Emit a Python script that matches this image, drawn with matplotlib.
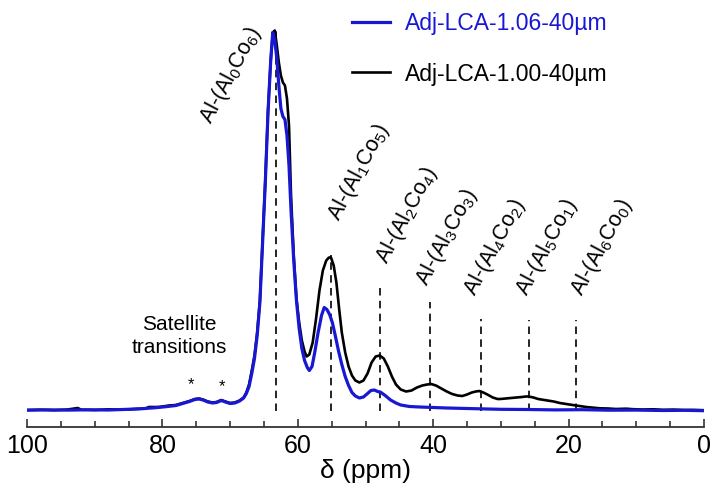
import matplotlib
matplotlib.use("Agg")
import matplotlib.pyplot as plt
from matplotlib.ticker import MultipleLocator

plt.rcParams['font.family'] = ['Liberation Sans', 'DejaVu Sans']
plt.rcParams['mathtext.fontset'] = 'custom'
plt.rcParams['mathtext.rm'] = 'Liberation Sans'
plt.rcParams['mathtext.it'] = 'Liberation Sans'
plt.rcParams['mathtext.default'] = 'regular'

# 27Al spectrum, sample Adj-LCA-1.00-40µm (chemical shift in ppm, intensity a.u.)
ppm_100 = [100, 98, 96, 94, 92.5, 92, 90, 88, 86, 84, 82.5, 82, 80.5, 79, 78, 77, 76,
           75.2, 74.6, 74, 73.3, 72.6, 72, 71.3, 70.7, 70, 69.3, 68.6, 68, 67.6, 67.2,
           66.8, 66.4, 66.0, 65.6, 65.2, 64.8, 64.4, 64.0, 63.7, 63.4, 63.1, 62.8, 62.5,
           62.2, 61.9, 61.6, 61.3, 61.0, 60.6, 60.2, 59.8, 59.4, 59.0, 58.7, 58.3, 57.8,
           57.3, 56.8, 56.3, 55.8, 55.4, 55.1, 54.7, 54.3, 53.9, 53.5, 53.0, 52.5, 52.0,
           51.5, 50.9, 50.3, 49.7, 49.1, 48.5, 47.9, 47.3, 46.7, 46.1, 45.5, 44.8, 44.0,
           43.2, 42.4, 41.6, 40.9, 40.3, 39.6, 38.8, 38.0, 37.2, 36.4, 35.7, 35.0, 34.3,
           33.7, 33.2, 32.6, 32.0, 31.2, 30.5, 30.1, 29.3, 28.5, 27.7, 26.9, 26.3, 25.9,
           25.2, 24.5, 23.6, 22.8, 22.2, 21.3, 20.4, 19.4, 18.4, 17.4, 16.4, 15.4, 14.2,
           13, 11.5, 10.5, 9, 7.5, 6, 4.5, 3, 1.5, 0]
int_100 = [0.5, 0.8, 0.3, 1.0, 2.5, 0.8, 0.5, 1.2, 0.8, 1.5, 2.0, 3.5, 3.5, 5, 5.5, 7.5, 9.5,
           11.5, 12, 11, 9, 8, 8.5, 10.5, 9, 7.5, 8, 10, 13, 18, 26,
           40, 55, 78, 110, 170, 230, 300, 350, 378, 380, 365, 348, 335,
           328, 325, 312, 285, 215, 155, 112, 88, 70, 59, 54, 56, 68,
           92, 120, 140, 150, 153, 153, 145, 128, 102, 78, 58, 44, 35,
           30, 28, 30, 37, 48, 54, 55, 52, 44, 34, 26, 21, 19,
           20, 23, 25, 26, 26.5, 25, 22, 19, 16.5, 15, 14.5, 16, 18,
           19, 19.5, 18, 16, 13, 11.5, 11.5, 12, 12.5, 13, 13.5, 14, 14,
           13, 11.5, 10.5, 9.5, 9, 7.5, 6.5, 5.5, 4.5, 3.5, 2.8, 2.2, 2,
           1.5, 1.8, 1.3, 1.0, 1.2, 0.7, 0.9, 0.5, 0.6, 0.3]

# 27Al spectrum, sample Adj-LCA-1.06-40µm
ppm_106 = [100, 97, 94, 91, 88, 85, 83, 81, 79.5, 78, 77, 76, 75.2, 74.6, 74, 73.3, 72.6,
           72, 71.3, 70.7, 70, 69.3, 68.6, 68, 67.6, 67.2, 66.8, 66.4, 66.0, 65.6, 65.2,
           64.8, 64.4, 64.0, 63.7, 63.4, 63.1, 62.8, 62.5, 62.2, 61.9, 61.6, 61.3, 61.0,
           60.6, 60.2, 59.8, 59.4, 59.0, 58.6, 58.3, 57.9, 57.5, 57.0, 56.5, 56.1, 55.7,
           55.3, 54.9, 54.5, 54.0, 53.5, 53.0, 52.5, 52.0, 51.5, 50.9, 50.3, 49.7, 49.2,
           48.7, 48.2, 47.7, 47.0, 46.3, 45.5, 44.8, 43.5, 42, 40, 38, 35, 32, 30, 26,
           22, 18, 14, 10, 6, 3, 0]
int_106 = [0.3, 0.6, 0.4, 0.7, 0.5, 1.2, 1.8, 2.8, 3.8, 5, 7, 9, 11, 11.5, 10.5, 8.5, 7.5,
           8, 10, 8.5, 7, 7.5, 9.5, 12.5, 17, 24, 37, 52, 75, 108, 168,
           228, 298, 350, 378, 370, 352, 325, 302, 294, 291, 275, 245, 200,
           150, 110, 82, 62, 50, 43, 40, 44, 58, 78, 95, 103, 101,
           96, 88, 76, 60, 46, 34, 25, 18, 14.5, 12.5, 13.5, 17, 20,
           20.5, 19, 18, 14.5, 10.5, 7.5, 5.5, 4, 3.5, 3, 2.5, 2, 1.5, 1.2, 1,
           0.6, 0.8, 0.3, 0.4, 0, 0.2, -0.2]

# Al environments: reference shift, top of marker line, label anchor
site_labels = ['Al-(Al$_0$Co$_6$)', 'Al-(Al$_1$Co$_5$)', 'Al-(Al$_2$Co$_4$)',
               'Al-(Al$_3$Co$_3$)', 'Al-(Al$_4$Co$_2$)', 'Al-(Al$_5$Co$_1$)',
               'Al-(Al$_6$Co$_0$)']
site_ppm = [63.2, 55.1, 47.8, 40.4, 33.0, 25.8, 18.9]
site_top = [383.5, 155.5, 124.5, 108.5, 92, 90.5, 90.5]
label_x = [72.8, 54.0, 46.8, 40.9, 33.9, 26.1, 18.0]
label_y = [285.5, 188.5, 145.5, 123.5, 113.5, 113.5, 113.5]

ticks_major = [100, 80, 60, 40, 20, 0]

blue = '#1818d4'

fig = plt.figure(figsize=(7.12, 4.93), dpi=100)
ax = fig.add_axes([27 / 712, 66 / 493, 677 / 712, 427 / 493])

ax.plot(ppm_100, int_100, color='black', lw=1.9, label='Adj-LCA-1.00-40µm', zorder=3)
ax.plot(ppm_106, int_106, color=blue, lw=2.3, label='Adj-LCA-1.06-40µm', zorder=4)

for p, top in zip(site_ppm, site_top):
    ax.vlines(p, -0.5, top, colors='black', linestyles=(0, (4.5, 3.2)), lw=1.2, zorder=2)

for lab, lx, ly in zip(site_labels, label_x, label_y):
    ax.text(lx, ly, lab, rotation=62, rotation_mode='anchor', ha='left',
            va='baseline', fontsize=15.5)

ax.text(77.5, 74.5, 'Satellite\ntransitions', ha='center', va='center',
        fontsize=15, linespacing=1.3)
ax.text(75.8, 25.5, '*', ha='center', va='center', fontsize=12)
ax.text(71.2, 23.5, '*', ha='center', va='center', fontsize=12)

ax.set_xlim(100, 0)
ax.set_ylim(-16.5, 410.5)
ax.set_xticks(ticks_major)
ax.xaxis.set_minor_locator(MultipleLocator(5))
ax.tick_params(axis='x', which='both', direction='in', color='#333333', width=1.2,
               labelsize=18, pad=5)
ax.tick_params(axis='x', which='major', length=6)
ax.tick_params(axis='x', which='minor', length=4)
ax.set_yticks([])
for s in ['left', 'right', 'top']:
    ax.spines[s].set_visible(False)
ax.spines['bottom'].set_color('#333333')
ax.spines['bottom'].set_linewidth(1.3)
ax.set_xlabel('δ (ppm)', fontsize=19, labelpad=1)

handles, labels = ax.get_legend_handles_labels()
leg = ax.legend(handles[::-1], labels[::-1], loc='upper left',
                bbox_to_anchor=(352 / 712, 1 - 12 / 493), bbox_transform=fig.transFigure,
                frameon=False, fontsize=16.5, handlelength=1.65, handletextpad=0.65,
                labelspacing=1.2, borderpad=0, borderaxespad=0)
for txt, h in zip(leg.get_texts(), leg.legend_handles):
    txt.set_color(h.get_color())

fig.savefig('out.png', dpi=100)
